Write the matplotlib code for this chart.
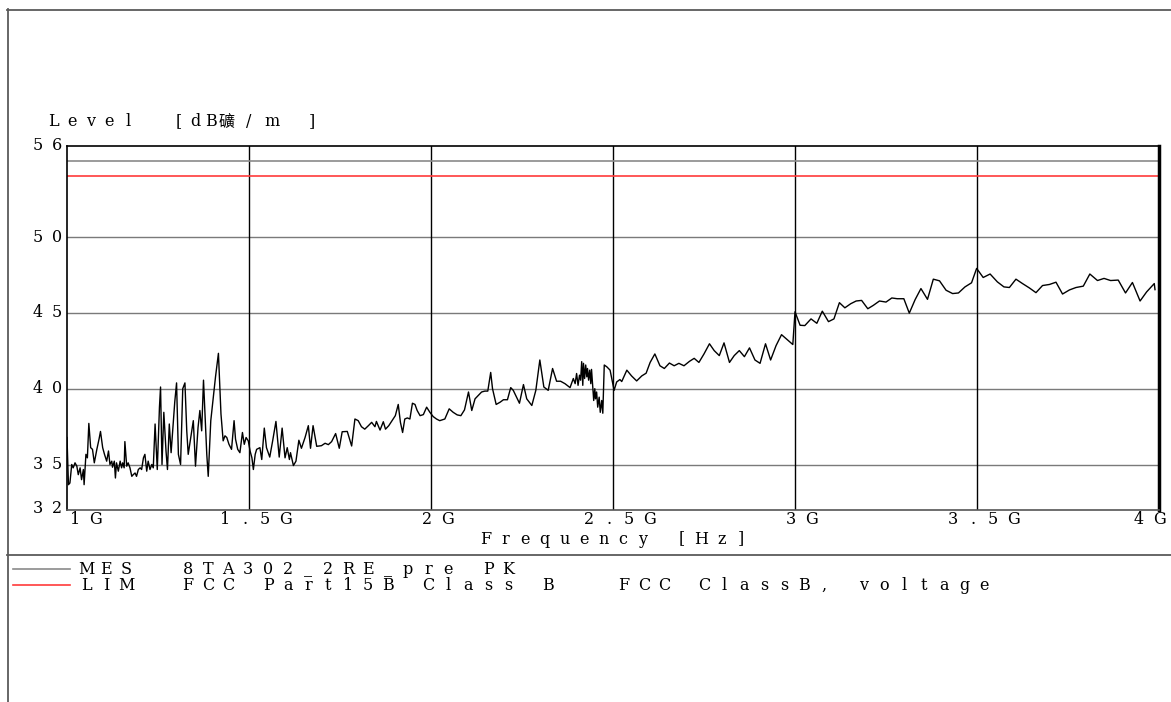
import matplotlib
matplotlib.use("Agg")
import matplotlib.pyplot as plt
from matplotlib import transforms
from matplotlib.lines import Line2D

# Canvas size in pixels (dpi 100)
W, H = 1171, 702

# Peak scan 1 GHz - 4 GHz, level in dBuV/m
FREQ_GHZ = [
    1.000, 1.004, 1.008, 1.013, 1.017, 1.022, 1.027, 1.031, 1.036, 1.040,
    1.045, 1.047, 1.052, 1.056, 1.060, 1.065, 1.070, 1.075, 1.082, 1.088,
    1.092, 1.098, 1.103, 1.109, 1.114, 1.118, 1.123, 1.125, 1.130, 1.133,
    1.136, 1.141, 1.146, 1.150, 1.153, 1.157, 1.159, 1.164, 1.168, 1.173,
    1.178, 1.182, 1.187, 1.191, 1.196, 1.201, 1.205, 1.210, 1.214, 1.219,
    1.223, 1.228, 1.233, 1.237, 1.242, 1.248, 1.254, 1.257, 1.261, 1.266,
    1.272, 1.276, 1.281, 1.286, 1.290, 1.296, 1.301, 1.306, 1.312, 1.318,
    1.324, 1.329, 1.333, 1.340, 1.347, 1.353, 1.360, 1.365, 1.370, 1.375,
    1.384, 1.388, 1.395, 1.402, 1.408, 1.416, 1.423, 1.429, 1.434, 1.439,
    1.445, 1.452, 1.459, 1.463, 1.469, 1.475, 1.482, 1.487, 1.492, 1.498,
    1.503, 1.508, 1.512, 1.517, 1.521, 1.530,
    1.535, 1.542, 1.548, 1.557, 1.565, 1.574, 1.583, 1.591, 1.599, 1.605,
    1.611, 1.614, 1.622, 1.629, 1.637, 1.644, 1.654, 1.663, 1.669, 1.676,
    1.686, 1.699, 1.709, 1.718, 1.727, 1.738, 1.748, 1.756, 1.770, 1.782,
    1.791, 1.800, 1.809, 1.818, 1.828, 1.837, 1.846, 1.850, 1.860, 1.869,
    1.875, 1.884, 1.894, 1.902, 1.910, 1.916, 1.922, 1.928, 1.935, 1.942,
    1.949, 1.956, 1.962, 1.970, 1.979, 1.988, 1.997, 2.006, 2.015, 2.024,
    2.038, 2.050, 2.061, 2.072, 2.082, 2.092, 2.103, 2.112, 2.121, 2.130,
    2.139, 2.148, 2.156, 2.164, 2.169, 2.179, 2.190, 2.199, 2.210, 2.219,
    2.226, 2.235, 2.243, 2.254, 2.263, 2.277, 2.288, 2.299, 2.310, 2.322,
    2.334, 2.345, 2.356, 2.368, 2.382, 2.391, 2.396, 2.400, 2.404, 2.408,
    2.411, 2.414, 2.417, 2.419, 2.422, 2.425, 2.428, 2.430, 2.433, 2.436,
    2.439, 2.441, 2.444, 2.447, 2.450, 2.452, 2.455, 2.458, 2.462, 2.465,
    2.469, 2.472, 2.476, 2.483, 2.492, 2.503, 2.510, 2.519,
    2.524, 2.538, 2.551, 2.565, 2.579, 2.591, 2.602, 2.615, 2.629, 2.641,
    2.655, 2.668, 2.681, 2.695, 2.710, 2.723, 2.736, 2.750, 2.765, 2.778,
    2.792, 2.805, 2.820, 2.833, 2.847, 2.861, 2.875, 2.890, 2.904, 2.919,
    2.933, 2.948, 2.963, 2.979, 2.994, 3.000, 3.014,
    3.027, 3.044, 3.060, 3.075, 3.092, 3.107, 3.122, 3.137, 3.153, 3.168,
    3.183, 3.200, 3.215, 3.232, 3.250, 3.266, 3.281, 3.299, 3.314, 3.330,
    3.346, 3.364, 3.380, 3.397, 3.415, 3.433, 3.449, 3.467, 3.485, 3.499,
    3.517, 3.536, 3.556, 3.574, 3.589, 3.607, 3.625, 3.644, 3.662, 3.680,
    3.699, 3.717, 3.735, 3.754, 3.772, 3.792, 3.810, 3.831, 3.849, 3.867,
    3.888, 3.908, 3.927, 3.948, 3.966, 3.987, 3.989,
]
LEVEL_DBUV = [
    36.78, 33.67, 33.78, 35.00, 34.78, 35.11, 34.89, 34.33, 34.78, 34.00,
    34.67, 33.67, 35.67, 35.44, 37.71, 36.11, 36.00, 35.11, 36.00, 36.67,
    37.18, 36.11, 35.67, 35.22, 35.89, 35.00, 35.22, 34.82, 35.22, 34.11,
    35.11, 34.56, 35.22, 34.78, 35.11, 34.78, 36.51, 34.89, 35.11, 34.78,
    34.22, 34.33, 34.44, 34.22, 34.67, 34.78, 34.67, 35.44, 35.67, 34.56,
    35.22, 34.67, 35.00, 34.78, 37.67, 34.67, 38.78, 40.11, 35.00, 38.44,
    35.89, 34.67, 37.67, 35.78, 37.11, 39.11, 40.38, 35.67, 35.00, 40.00,
    40.38, 37.22, 35.67, 36.78, 37.89, 34.89, 37.44, 38.56, 37.22, 40.56,
    35.67, 34.22, 37.89, 39.44, 40.78, 42.33, 38.33, 36.56, 36.89, 36.78,
    36.33, 36.00, 37.89, 36.67, 36.00, 35.78, 37.11, 36.33, 36.78, 36.56,
    35.89, 35.44, 34.67, 35.67, 36.00, 36.11,
    35.33, 37.40, 36.11, 35.49, 36.56, 37.84, 35.49, 37.40, 35.44, 36.11,
    35.33, 35.78, 34.93, 35.22, 36.60, 36.07, 36.78, 37.56, 36.07, 37.56,
    36.20, 36.24, 36.40, 36.31, 36.51, 37.04, 36.07, 37.16, 37.18, 36.22,
    38.00, 37.89, 37.49, 37.33, 37.56, 37.78, 37.49, 37.84, 37.27, 37.82,
    37.33, 37.56, 37.93, 38.22, 38.96, 37.78, 37.11, 38.00, 38.07, 38.00,
    39.04, 38.96, 38.56, 38.22, 38.29, 38.78, 38.44, 38.16, 38.00, 37.89,
    38.00, 38.67, 38.44, 38.27, 38.22, 38.60, 39.78, 38.56, 39.33, 39.56,
    39.78, 39.84, 39.84, 41.07, 40.00, 38.96, 39.11, 39.27, 39.27, 40.07,
    39.89, 39.44, 39.04, 40.27, 39.33, 38.89, 39.89, 41.89, 40.11, 39.89,
    41.33, 40.49, 40.49, 40.33, 40.07, 40.67, 40.33, 41.00, 40.22, 40.89,
    40.56, 41.78, 40.22, 41.67, 40.67, 41.56, 40.78, 41.33, 40.56, 41.22,
    40.33, 41.27, 40.22, 39.22, 40.00, 39.33, 39.78, 38.78, 39.44, 38.44,
    39.22, 38.38, 41.56, 41.44, 41.22, 39.89, 40.44, 40.60,
    40.47, 41.22, 40.84, 40.51, 40.84, 41.02, 41.73, 42.29, 41.51, 41.33,
    41.69, 41.51, 41.67, 41.51, 41.80, 42.00, 41.73, 42.29, 42.96, 42.51,
    42.18, 43.02, 41.73, 42.18, 42.51, 42.11, 42.69, 41.89, 41.67, 42.96,
    41.89, 42.84, 43.56, 43.22, 42.91, 45.07, 44.18,
    44.16, 44.60, 44.31, 45.11, 44.42, 44.60, 45.67, 45.33, 45.60, 45.78,
    45.82, 45.27, 45.49, 45.78, 45.71, 45.98, 45.93, 45.93, 44.98, 45.87,
    46.60, 45.89, 47.22, 47.11, 46.49, 46.27, 46.31, 46.71, 46.98, 47.93,
    47.33, 47.56, 47.04, 46.71, 46.67, 47.22, 46.93, 46.64, 46.33, 46.80,
    46.87, 47.02, 46.24, 46.51, 46.67, 46.76, 47.56, 47.13, 47.27, 47.13,
    47.16, 46.31, 47.00, 45.78, 46.38, 46.93, 46.53,
]

LIMIT_DB = 54.0        # FCC Part 15B Class B
MARGIN_LINE_DB = 55.0
Y_GRID = [50, 45, 40, 35]
X_GRID = [1.5, 2.0, 2.5, 3.0, 3.5]
Y_TICKS = [56, 50, 45, 40, 35, 32]
Y_TICK_LABELS = ['56', '50', '45', '40', '35', '32']
X_TICKS = [1.0, 1.5, 2.0, 2.5, 3.0, 3.5, 4.0]
X_TICK_LABELS = ['1G', '1.5G', '2G', '2.5G', '3G', '3.5G', '4G']

Y_LABEL = 'Level'
Y_UNIT = '[dB礦/m]'
X_LABEL = 'Frequency [Hz]'
LEGEND_ROWS = [
    ('MES', '8TA302_2RE_pre PK', '', '#8a8a8a'),
    ('LIM', 'FCC Part15B Class B', 'FCC ClassB, voltage', '#ff3b3b'),
]

plt.rcParams['font.family'] = ['DejaVu Serif', 'Noto Sans CJK SC']
FS = 11.5
PITCH = 20

fig = plt.figure(figsize=(W / 100, H / 100), dpi=100)
fig.patch.set_facecolor('white')

# pixel coordinates measured from the top-left corner
pix = transforms.Affine2D().scale(1, -1).translate(0, H)

ax = fig.add_axes([67 / W, 1 - 510 / H, 1092 / W, 364 / H])
ax.set_xlim(1.0, 4.0)
ax.set_ylim(32, 56)
ax.set_xticks([])
ax.set_yticks([])

for y in Y_GRID:
    ax.axhline(y, color='#7a7a7a', lw=1.0, zorder=1)
for x in X_GRID:
    ax.axvline(x, color='black', lw=1.0, zorder=1)
ax.axhline(MARGIN_LINE_DB, color='#8a8a8a', lw=1.2, zorder=1)
ax.axhline(LIMIT_DB, color='#ff3b3b', lw=1.2, zorder=1)

ax.plot(FREQ_GHZ, LEVEL_DBUV, color='black', lw=1.0, zorder=3)

for side in ('left', 'top'):
    ax.spines[side].set_color('black')
    ax.spines[side].set_linewidth(1.2)
ax.spines['bottom'].set_color('#555555')
ax.spines['bottom'].set_linewidth(1.2)
ax.spines['right'].set_color('black')
ax.spines['right'].set_linewidth(2.5)


def spaced(x, y, s, trans, align='left', pitch=PITCH, color='black'):
    """Draw a string on a fixed character pitch (wide plotter lettering)."""
    n = len(s)
    if align == 'left':
        start = 0.0
    elif align == 'center':
        start = -(n - 1) * pitch / 2
    else:
        start = -(n - 1) * pitch
    for i, ch in enumerate(s):
        if ch == ' ':
            continue
        off = transforms.Affine2D().translate(start + i * pitch, 0)
        fig.text(x, y, ch, transform=trans + off, ha='center', va='center',
                 fontsize=FS, color=color)


# y tick labels, right-aligned against the left spine
ytrans = transforms.blended_transform_factory(pix, ax.transData)
for val, lab in zip(Y_TICKS, Y_TICK_LABELS):
    yy = val + 0.12 if val == 32 else val
    spaced(57, yy, lab, ytrans, align='right', pitch=19)

# x tick labels
xtrans = transforms.blended_transform_factory(ax.transData, pix)
for val, lab in zip(X_TICKS, X_TICK_LABELS):
    if val == X_TICKS[0]:
        spaced(val, 520, lab, xtrans + transforms.Affine2D().translate(8, 0), align='left')
    elif val == X_TICKS[-1]:
        spaced(val, 520, lab, xtrans, align='right')
    else:
        spaced(val, 520, lab, xtrans + transforms.Affine2D().translate(6, 0), align='center')

spaced(486, 539, X_LABEL, pix, align='left', pitch=19.6)

# axis title above the plot
spaced(53, 122, Y_LABEL, pix, align='left', pitch=18.7)
for ch, xc in zip(Y_UNIT, [179, 195, 211, 227, 249, 272, 312]):
    fig.text(xc, 122, ch, transform=pix, ha='center', va='center', fontsize=FS)

# page frame and legend separator
frame_kw = dict(transform=pix, color='#5a5a5a', lw=1.3)
fig.add_artist(Line2D([7, 1171], [9.5, 9.5], **frame_kw))
fig.add_artist(Line2D([7.5, 7.5], [9, 702], **frame_kw))
fig.add_artist(Line2D([7, 1171], [555, 555], **frame_kw))

# trace legend
for row, (tag, name, note, col) in enumerate(LEGEND_ROWS):
    ly = 569 + row * 16
    fig.add_artist(Line2D([13, 70], [ly, ly], transform=pix, color=col, lw=1.2))
    spaced(86, ly, tag, pix)
    spaced(188, ly, name, pix)
    if note:
        spaced(624, ly, note, pix)

fig.savefig('out.png', dpi=100, facecolor='white')
